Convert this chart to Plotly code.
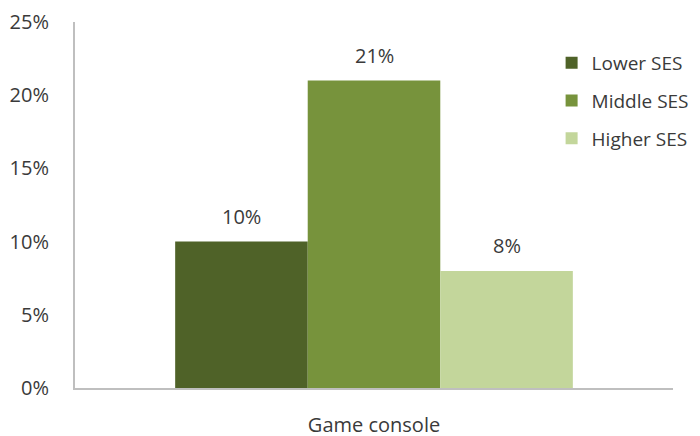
import plotly.graph_objects as go

# Share of children owning a game console, by socio-economic status
categories = ["Game console"]
series_names = ["Lower SES", "Middle SES", "Higher SES"]
series_values = [[10], [21], [8]]
series_colors = ["#4f6228", "#77933c", "#c3d69b"]
y_ticks = [0, 5, 10, 15, 20, 25]

FONT = "Open Sans"
TEXT = "#3a3a3a"
FS = 20

fig = go.Figure()
for name, vals, col in zip(series_names, series_values, series_colors):
    fig.add_trace(go.Bar(
        x=categories, y=vals, name=name, legendgroup=name,
        marker=dict(color=col, line=dict(width=0)),
        offsetgroup=name,
    ))

# value labels placed above each bar
n = len(series_names)
for i, (name, vals) in enumerate(zip(series_names, series_values)):
    for cat, v in zip(categories, vals):
        fig.add_annotation(
            x=cat, y=v, text=f"{v}%", showarrow=False,
            xshift=(i - (n - 1) / 2) * 132.5, yshift=25, yanchor="middle",
            font=dict(family=FONT, size=FS, color=TEXT),
        )

fig.update_layout(
    width=700, height=436,
    margin=dict(l=75, r=27, t=22, b=48, autoexpand=False),
    paper_bgcolor="white", plot_bgcolor="white",
    barmode="group", bargap=0.335, bargroupgap=0,
    font=dict(family=FONT, size=FS, color=TEXT),
    showlegend=True,
    legend=dict(
        x=0.797, y=0.94, xanchor="left", yanchor="top",
        font=dict(family=FONT, size=19, color=TEXT),
        traceorder="grouped", tracegroupgap=10,
        itemwidth=30, bgcolor="rgba(0,0,0,0)",
    ),
)
fig.update_yaxes(
    range=[0, 25], tickvals=y_ticks, ticktext=[f"{t}%" for t in y_ticks],
    showgrid=False, zeroline=False, showline=True, linecolor="#bfbfbf",
    linewidth=2, ticks="", ticklabelstandoff=20, automargin=False,
    tickfont=dict(family=FONT, size=FS, color=TEXT),
)
fig.update_xaxes(
    showgrid=False, showline=True, linecolor="#bfbfbf", linewidth=2,
    ticks="", ticklabelstandoff=18, automargin=False,
    tickfont=dict(family=FONT, size=FS, color=TEXT),
)

fig.write_html("out.html")
